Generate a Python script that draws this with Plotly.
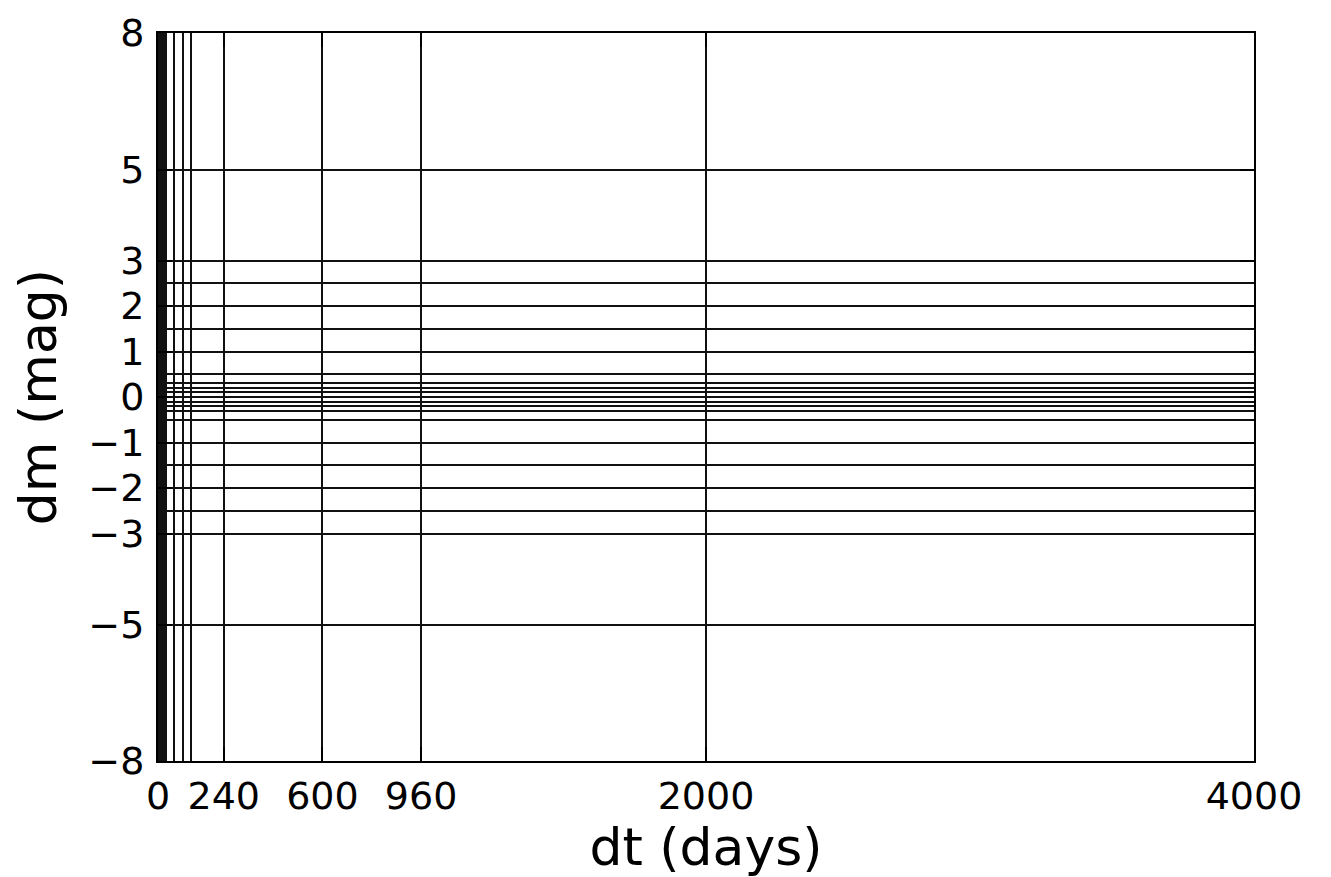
import plotly.graph_objects as go

# Grid positions (bin edges)
dt_grid = [0, 1, 2, 3, 4, 5, 6, 8, 10, 12, 15, 20, 25, 30, 60, 90, 120, 240, 600, 960, 2000, 4000]
dt_ticks = [0, 240, 600, 960, 2000, 4000]
dm_grid = [-8, -5, -3, -2.5, -2, -1.5, -1, -0.5, -0.3, -0.2, -0.1, 0,
           0.1, 0.2, 0.3, 0.5, 1, 1.5, 2, 2.5, 3, 5, 8]
dm_ticks = [-8, -5, -3, -2, -1, 0, 1, 2, 3, 5, 8]
dm_ticktext = ["\u22128", "\u22125", "\u22123", "\u22122", "\u22121", "0", "1", "2", "3", "5", "8"]

FONT = "DejaVu Sans"

fig = go.Figure()
# invisible trace to establish axes
fig.add_trace(go.Scatter(x=[dt_grid[0], dt_grid[-1]], y=[dm_grid[0], dm_grid[-1]],
                         mode="markers", marker=dict(opacity=0), hoverinfo="skip",
                         showlegend=False))

axis_common = dict(
    showline=True, linecolor="black", linewidth=2, mirror="ticks",
    ticks="inside", ticklen=14, tickwidth=1.5, tickcolor="black",
    showgrid=True, gridcolor="#111111", gridwidth=1.5,
    zeroline=False, automargin=False,
    tickfont=dict(family=FONT, size=38, color="black"),
)

fig.update_xaxes(
    range=[0, 4000], tickmode="array", tickvals=dt_ticks,
    ticktext=[str(v) for v in dt_ticks],
    minor=dict(tickmode="array", tickvals=dt_grid, showgrid=True,
               gridcolor="#111111", gridwidth=1.5, ticks=""),
    title=dict(text="dt (days)", font=dict(family=FONT, size=52, color="black"), standoff=20),
    ticklabelstandoff=0,
    **axis_common,
)
fig.update_yaxes(
    range=[-8, 8], tickmode="array", tickvals=dm_ticks, ticktext=dm_ticktext,
    minor=dict(tickmode="array", tickvals=dm_grid, showgrid=True,
               gridcolor="#111111", gridwidth=1.5, ticks=""),
    title=dict(text="dm (mag)", font=dict(family=FONT, size=52, color="black"), standoff=16),
    ticklabelstandoff=4,
    **axis_common,
)

fig.update_layout(
    width=1323, height=869,
    margin=dict(l=150, r=77, t=25, b=116, pad=0),
    plot_bgcolor="white", paper_bgcolor="white",
    font=dict(family=FONT, color="black"),
    showlegend=False,
)

fig.write_html("out.html")
